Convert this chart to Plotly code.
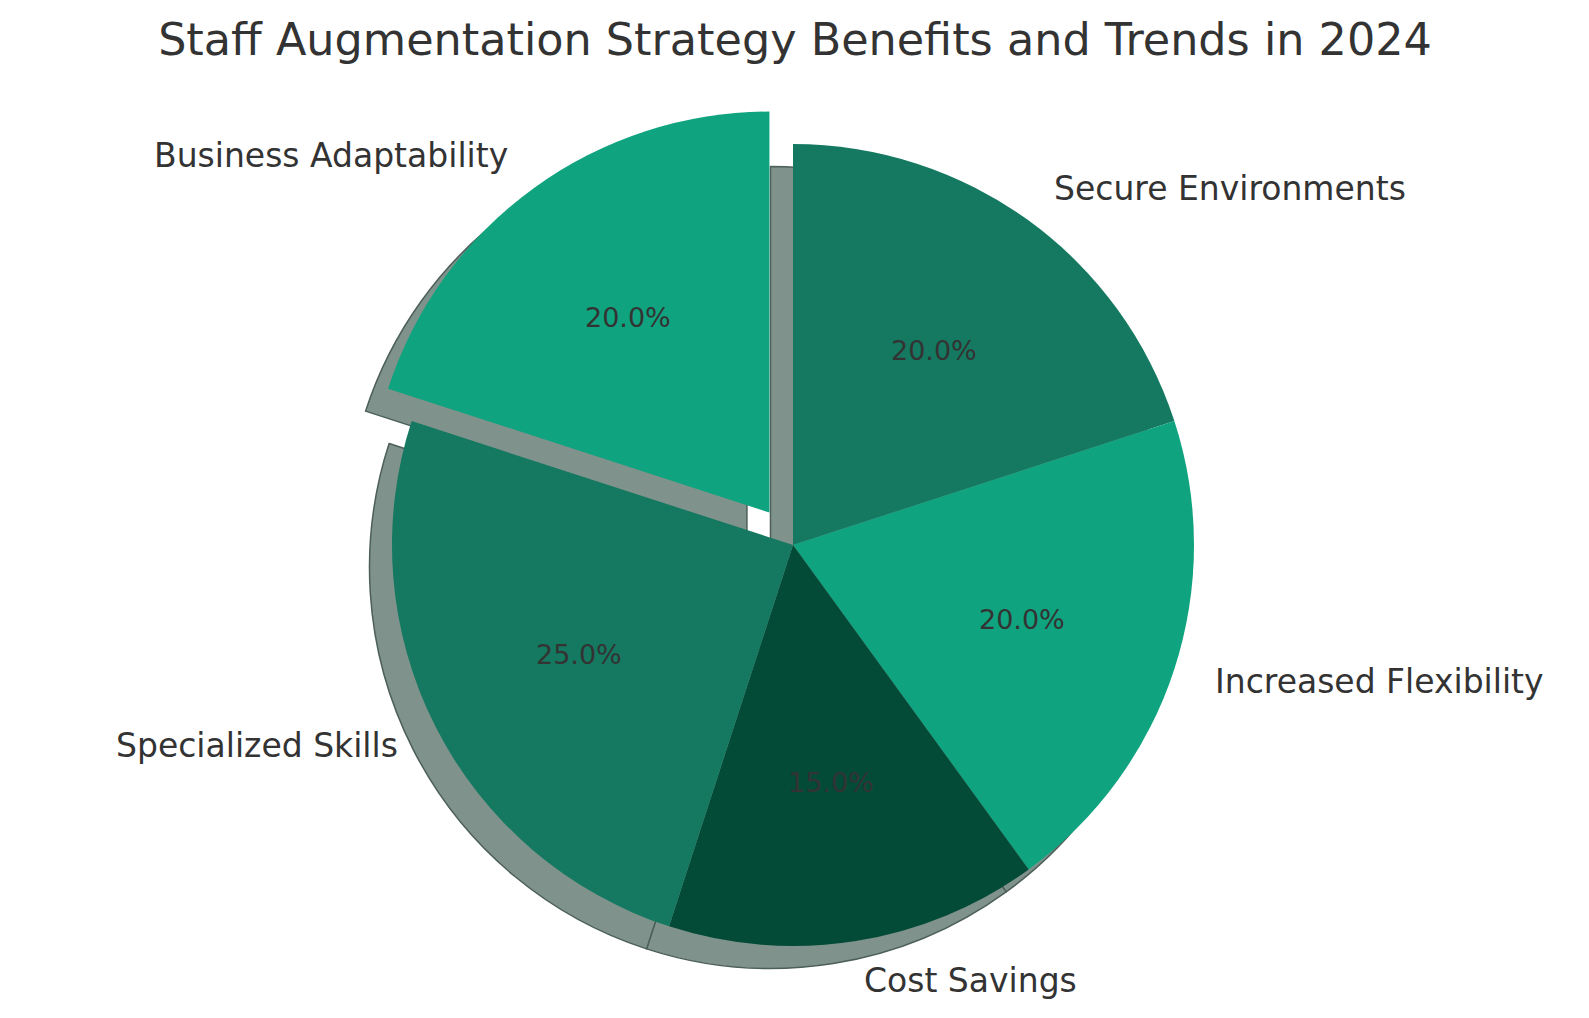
import math
import plotly.graph_objects as go

# data, clockwise from 12 o'clock
labels = ["Secure Environments", "Increased Flexibility", "Cost Savings",
          "Specialized Skills", "Business Adaptability"]
values = [20, 20, 15, 25, 20]
explode = [0, 0, 0, 0, 0.1]
colors = ["#147960", "#10a37f", "#034a37", "#147960", "#10a37f"]

title = "Staff Augmentation Strategy Benefits and Trends in 2024"

W, H = 1589, 1018
CX, CY, R = 793, 545, 401      # pie centre / radius in px
SHADOW = 22.5                  # shadow offset in px (left, down)
FONT = "DejaVu Sans"
TEXT = "#333333"


def pie_domain(cx, cy):
    half = R * (1 + max(explode))
    return dict(x=[(cx - half) / W, (cx + half) / W],
                y=[1 - (cy + half) / H, 1 - (cy - half) / H])


fig = go.Figure()

# shadow copy underneath
fig.add_trace(go.Pie(
    labels=labels, values=values, pull=explode, sort=False,
    direction="clockwise", rotation=0, textinfo="none", hoverinfo="skip",
    marker=dict(colors=["#7f928b"] * len(values), line=dict(color="#4c5f58", width=1.5)),
    domain=pie_domain(CX - SHADOW, CY + SHADOW), showlegend=False,
))

fig.add_trace(go.Pie(
    labels=labels, values=values, pull=explode, sort=False,
    direction="clockwise", rotation=0, textinfo="none",
    marker=dict(colors=colors, line=dict(width=0)),
    domain=pie_domain(CX, CY), showlegend=False,
))

# labels at 1.1 r, percentages at 0.6 r (matplotlib style)
total = sum(values)
cum = 0
annotations = []
for lab, v, ex in zip(labels, values, explode):
    mid = math.radians(90 - 360 * (cum + v / 2) / total)
    cum += v
    c, s = math.cos(mid), math.sin(mid)
    ox, oy = CX + ex * R * c, CY - ex * R * s
    annotations.append(dict(
        x=(ox + 1.1 * R * c) / W, y=1 - (oy - 1.1 * R * s) / H,
        xref="paper", yref="paper", text=lab, showarrow=False,
        xanchor="left" if c > 0 else "right", yanchor="middle",
        font=dict(family=FONT, size=33, color=TEXT),
    ))
    annotations.append(dict(
        x=(ox + 0.6 * R * c) / W, y=1 - (oy - 0.6 * R * s) / H,
        xref="paper", yref="paper", text=f"{v / total * 100:.1f}%", showarrow=False,
        xanchor="center", yanchor="middle",
        font=dict(family=FONT, size=27, color=TEXT),
    ))

fig.update_layout(
    title=dict(text=title, x=795 / W, xanchor="center", y=1 - 39 / H, yanchor="middle",
               font=dict(family=FONT, size=44.5, color=TEXT)),
    annotations=annotations,
    width=W, height=H,
    margin=dict(l=0, r=0, t=0, b=0),
    paper_bgcolor="white",
    plot_bgcolor="white",
)

fig.write_html("out.html", config={"displayModeBar": False},
               post_script="document.body.style.margin='0';")
